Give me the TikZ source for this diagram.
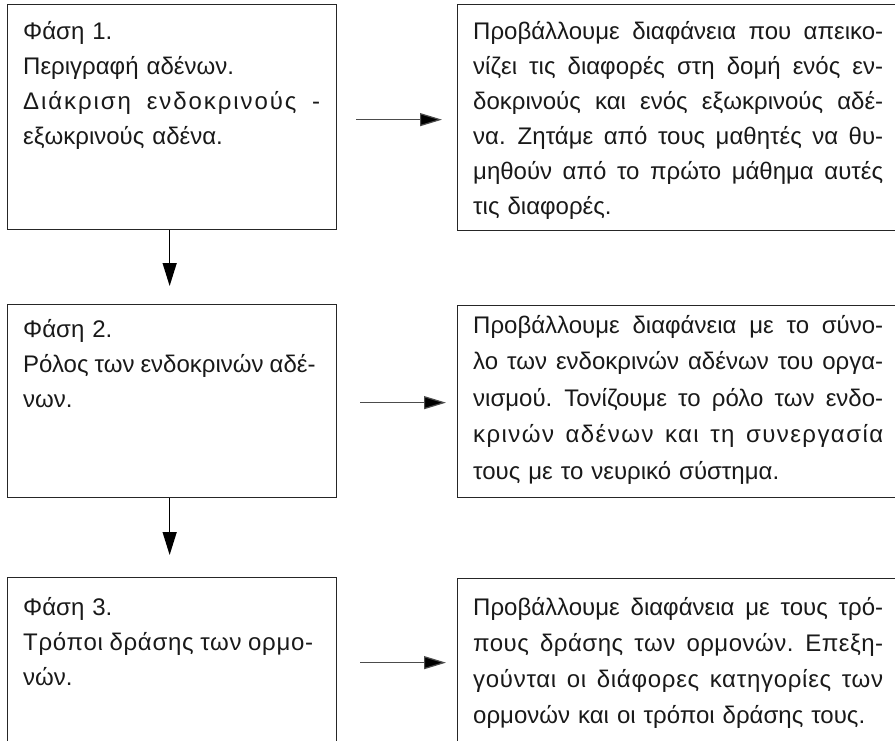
\documentclass[tikz,border=0pt]{standalone}
\usepackage{fontspec}
\setmainfont{Liberation Sans}
\usetikzlibrary{arrows.meta,calc}
\newcommand{\jl}[2]{{\spaceskip=0.25em plus 1fil\relax\makebox[#1][s]{#2}}}
\newcommand{\jls}[3]{{\addfontfeature{LetterSpace=#2}\jl{#1}{#3}}}
\newcommand{\fs}{\rule{0pt}{19pt}}
\begin{document}
\begin{tikzpicture}[x=1pt,y=-1pt,
  box/.style={draw=black!85,line width=1.3pt,rectangle,inner sep=0pt,anchor=north west},
  txt/.style={anchor=north west,inner sep=0pt,text width=430pt,align=left,text=black!90},
  harr/.style={draw=black!70,line width=1.2pt,-{Triangle[length=22pt,width=13pt,fill=black]}},
  varr/.style={draw=black,line width=1.3pt,-{Triangle[length=23pt,width=14pt,fill=black]}}]
\useasboundingbox (0,0) rectangle (895,741);
\clip (0,0) rectangle (895,741);
% boxes
\node[box,minimum width=329pt,minimum height=225pt] (b1) at (7,4) {};
\node[box,minimum width=445pt,minimum height=226pt] (r1) at (457,4) {};
\node[box,minimum width=329pt,minimum height=193pt] (b2) at (7,304) {};
\node[box,minimum width=445pt,minimum height=192pt] (r2) at (457,305) {};
\node[box,minimum width=329pt,minimum height=170pt] (b3) at (7,577) {};
\node[box,minimum width=445pt,minimum height=168pt] (r3) at (457,578) {};
% texts
\node[txt,font=\fontsize{24}{35}\selectfont] (t1) at (23,20) {\fs Φάση 1.\\
Περιγραφή αδένων.\\
\jls{297pt}{8}{Διάκριση ενδοκρινούς -}\\
εξωκρινούς αδένα.};
\node[txt,font=\fontsize{24}{35}\selectfont] (u1) at (473,20) {\fs\jl{410pt}{Προβάλλουμε διαφάνεια που απεικο-}\\
\jl{410pt}{νίζει τις διαφορές στη δομή ενός εν-}\\
\jl{410pt}{δοκρινούς και ενός εξωκρινούς αδέ-}\\
\jl{410pt}{να. Ζητάμε από τους μαθητές να θυ-}\\
\jl{410pt}{μηθούν από το πρώτο μάθημα αυτές}\\
τις διαφορές.};
\node[txt,font=\fontsize{24}{35}\selectfont] (t2) at (23,318) {\fs Φάση 2.\\
\jl{290pt}{Ρόλος των ενδοκρινών αδέ-}\\
νων.};
\node[txt,font=\fontsize{24}{36.5}\selectfont] (u2) at (473,314) {\fs\jl{410pt}{Προβάλλουμε διαφάνεια με το σύνο-}\\
\jl{410pt}{λο των ενδοκρινών αδένων του οργα-}\\
\jl{410pt}{νισμού. Τονίζουμε το ρόλο των ενδο-}\\
\jls{410pt}{6}{κρινών αδένων και τη συνεργασία}\\
τους με το νευρικό σύστημα.};
\node[txt,font=\fontsize{24}{35}\selectfont] (t3) at (23,596) {\fs Φάση 3.\\
\jls{290pt}{3}{Τρόποι δράσης των ορμο-}\\
νών.};
\node[txt,font=\fontsize{24}{36}\selectfont] (u3) at (473,596) {\fs\jl{410pt}{Προβάλλουμε διαφάνεια με τους τρό-}\\
\jls{410pt}{2}{πους δράσης των ορμονών. Επεξη-}\\
\jls{410pt}{3}{γούνται οι διάφορες κατηγορίες των}\\
ορμονών και οι τρόποι δράσης τους.};
% connectors
\draw[harr] ($(b1.east)+(19,2.5)$) -- ($(r1.west)+(-15,2)$);
\draw[harr] ($(b2.east)+(23,1.5)$) -- ($(r2.west)+(-11,1)$);
\draw[harr] ($(b3.east)+(23,0)$) -- ($(r3.west)+(-11,0)$);
\draw[varr,shorten >=18pt] ($(b1.south)+(-2.5,0)$) -- ($(b2.north)+(-2.5,0)$);
\draw[varr,shorten >=22pt] ($(b2.south)+(-2.5,0)$) -- ($(b3.north)+(-2.5,0)$);
\end{tikzpicture}
\end{document}
